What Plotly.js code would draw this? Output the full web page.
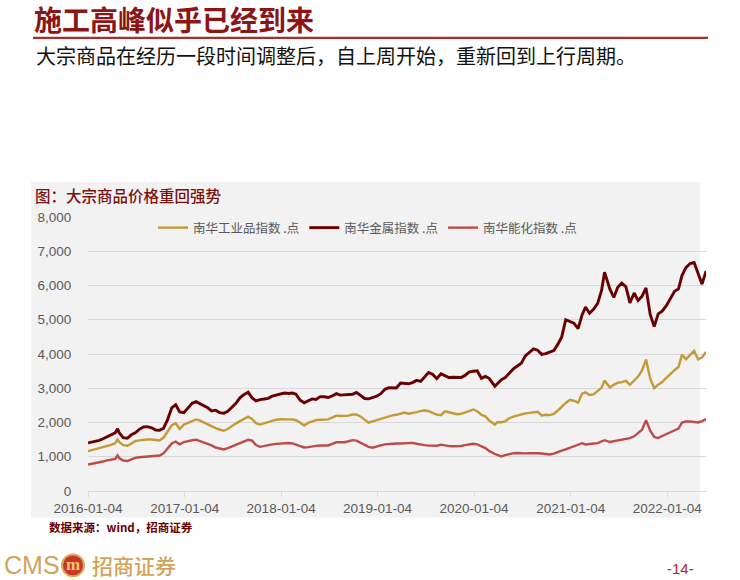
<!DOCTYPE html>
<html><head><meta charset="utf-8">
<script src="https://cdn.plot.ly/plotly-3.0.1.min.js"></script>
<style>html,body{margin:0;padding:0;background:#fff;}#chart{width:740px;height:580px;}</style>
</head><body><div id="chart"></div>
<script>
const dates = [
"2016-01-04","2016-01-16","2016-02-01","2016-02-16","2016-03-01","2016-03-16","2016-04-01","2016-04-16","2016-04-25","2016-05-01","2016-05-16","2016-06-01","2016-06-16","2016-07-01","2016-07-16","2016-08-01","2016-08-16","2016-09-01","2016-09-16","2016-10-01","2016-10-16","2016-11-01","2016-11-16","2016-12-01","2016-12-16",
"2017-01-01","2017-01-16","2017-02-01","2017-02-16","2017-03-01","2017-03-16","2017-04-01","2017-04-16","2017-05-01","2017-05-16","2017-06-01","2017-06-16","2017-07-01","2017-07-16","2017-08-01","2017-08-16","2017-09-01","2017-09-16","2017-10-01","2017-10-16","2017-11-01","2017-11-16","2017-12-01","2017-12-16",
"2018-01-01","2018-01-16","2018-02-01","2018-02-16","2018-03-01","2018-03-16","2018-04-01","2018-04-16","2018-05-01","2018-05-16","2018-06-01","2018-06-16","2018-07-01","2018-07-16","2018-08-01","2018-08-16","2018-09-01","2018-09-16","2018-10-01","2018-10-16","2018-11-01","2018-11-16","2018-12-01","2018-12-16",
"2019-01-01","2019-01-16","2019-02-01","2019-02-16","2019-03-01","2019-03-16","2019-04-01","2019-04-16","2019-05-01","2019-05-16","2019-06-01","2019-06-16","2019-07-01","2019-07-16","2019-08-01","2019-08-16","2019-09-01","2019-09-16","2019-10-01","2019-10-16","2019-11-01","2019-11-16","2019-12-01","2019-12-16",
"2020-01-01","2020-01-16","2020-02-01","2020-02-16","2020-03-01","2020-03-16","2020-03-23","2020-04-01","2020-04-16","2020-05-01","2020-05-16","2020-06-01","2020-06-16","2020-07-01","2020-07-16","2020-08-01","2020-08-16","2020-09-01","2020-09-16","2020-10-01","2020-10-16","2020-11-01","2020-11-16","2020-12-01","2020-12-16",
"2021-01-01","2021-01-16","2021-02-01","2021-02-16","2021-03-01","2021-03-16","2021-04-01","2021-04-16","2021-05-01","2021-05-12","2021-06-01","2021-06-16","2021-07-01","2021-07-16","2021-08-01","2021-08-16","2021-09-01","2021-09-16","2021-10-01","2021-10-16","2021-11-01","2021-11-16","2021-12-01","2021-12-16",
"2022-01-01","2022-01-16","2022-02-01","2022-02-16","2022-03-01","2022-03-16","2022-04-01","2022-04-16","2022-05-01","2022-05-16","2022-05-31"
];
const industrialIdx = [
1162,1185,1213,1250,1290,1320,1347,1400,1503,1430,1340,1320,1390,1456,1478,1496,1503,1503,1500,1476,1560,1740,1920,1975,1810,
1940,1995,2037,2090,2060,2000,1947,1890,1837,1796,1757,1810,1897,1968,2040,2115,2170,2105,1980,1940,1980,2018,2052,2082,
2096,2102,2092,2086,2066,2000,1912,1989,2036,2070,2082,2086,2090,2145,2200,2190,2187,2199,2233,2236,2171,2094,1993,2031,
2071,2114,2160,2186,2208,2225,2266,2290,2258,2270,2302,2330,2357,2335,2288,2230,2213,2329,2300,2271,2241,2255,2287,2330,
2380,2330,2220,2180,2060,1975,1940,2010,2009,2035,2125,2170,2210,2245,2268,2280,2305,2310,2208,2226,2215,2250,2350,2475,2570,
2665,2635,2580,2840,2880,2805,2820,2910,3020,3224,3020,3100,3160,3177,3217,3100,3212,3340,3520,3837,3280,3000,3105,3180,
3300,3420,3530,3620,3980,3850,3975,4090,3840,3900,4060
];
const metalIdx = [
1405,1420,1450,1480,1525,1590,1640,1700,1814,1700,1560,1540,1640,1700,1800,1870,1880,1845,1780,1770,1835,2100,2430,2520,2310,
2290,2420,2560,2610,2555,2500,2430,2340,2360,2290,2270,2330,2430,2550,2720,2815,2883,2718,2630,2670,2685,2705,2770,2805,
2835,2860,2845,2860,2825,2660,2575,2640,2689,2672,2755,2750,2730,2775,2842,2800,2810,2830,2823,2880,2790,2700,2690,2735,
2770,2840,2970,3015,3020,3010,3150,3150,3130,3165,3230,3200,3330,3460,3400,3280,3420,3370,3315,3320,3320,3315,3375,3470,
3496,3510,3290,3345,3290,3150,3059,3130,3245,3310,3430,3570,3650,3728,3945,4065,4150,4110,3990,4010,4051,4100,4280,4500,5000,
4940,4900,4740,5140,5370,5190,5310,5480,5860,6385,5900,5650,5950,6074,5960,5490,5782,5560,5690,5928,5150,4800,5170,5250,
5410,5610,5830,5900,6290,6520,6640,6670,6360,6040,6420
];
const energyIdx = [
773,790,810,828,860,893,918,940,1036,960,890,875,925,968,984,997,1006,1017,1026,1035,1100,1250,1390,1445,1365,
1430,1465,1483,1500,1467,1420,1380,1330,1270,1235,1215,1255,1302,1350,1405,1450,1495,1470,1340,1290,1320,1343,1360,1377,
1390,1400,1401,1390,1360,1323,1270,1280,1310,1318,1327,1327,1330,1376,1423,1425,1425,1452,1485,1470,1405,1340,1290,1265,
1289,1330,1362,1375,1386,1386,1386,1386,1392,1405,1380,1354,1340,1326,1314,1322,1352,1330,1310,1308,1308,1315,1338,1361,
1378,1360,1313,1252,1170,1098,1080,1055,1010,1050,1080,1104,1110,1098,1098,1107,1114,1104,1094,1080,1066,1090,1125,1178,1218,
1265,1310,1370,1395,1360,1365,1388,1398,1450,1483,1430,1454,1474,1488,1518,1541,1596,1680,1790,2067,1760,1580,1545,1605,
1665,1720,1785,1825,2000,2030,2030,2010,2000,2040,2100
];
const seriesNames = ["南华工业品指数 .点","南华金属指数 .点","南华能化指数 .点"];
const seriesColors = ["#C49A34","#6A0000","#BE4B48"];
const tickDates = ["2016-01-04","2017-01-04","2018-01-04","2019-01-04","2020-01-04","2021-01-04","2022-01-04"];
const tickLabels = ["2016-01-04","2017-01-04","2018-01-04","2019-01-04","2020-01-04","2021-01-04","2022-01-04"];
const yTicks = [0,1000,2000,3000,4000,5000,6000,7000,8000];

const titleText = "施工高峰似乎已经到来";
const subText = "大宗商品在经历一段时间调整后，自上周开始，重新回到上行周期。";
const figText = "图：大宗商品价格重回强势";
const srcText = "数据来源：wind，招商证券";

const L = 88, R = 706, T = 217, B = 491.5;
function px(x){ return (x - L) / (R - L); }
function py(y){ return (B - y) / (B - T); }

const values = [industrialIdx, metalIdx, energyIdx];
const widths = [2.4, 2.9, 2.4];
const traces = values.map((v, i) => ({
  type: "scatter", mode: "lines", x: dates, y: v, name: seriesNames[i],
  line: {color: seriesColors[i], width: widths[i]}, hoverinfo: "skip"
}));

const CJK = "'Noto Sans CJK SC', sans-serif";
const layout = {
  width: 740, height: 580,
  margin: {l: L, r: 740 - R, t: T, b: 580 - B, pad: 0},
  paper_bgcolor: "#ffffff", plot_bgcolor: "rgba(0,0,0,0)",
  showlegend: true,
  legend: {orientation: "h", x: px(153), y: py(213), xanchor: "left", yanchor: "top",
    bgcolor: "rgba(0,0,0,0)", font: {family: CJK, size: 12.5, color: "#595959"}, itemwidth: 30},
  xaxis: {type: "date", range: ["2016-01-04", "2022-05-31"], tickmode: "array",
    tickvals: tickDates, ticktext: tickLabels, showgrid: false, zeroline: false,
    showline: true, linecolor: "#d9d9d9", linewidth: 1, ticks: "outside", ticklen: 5,
    tickcolor: "#d9d9d9", tickfont: {family: "'Liberation Sans', Arial, sans-serif", size: 13.5, color: "#595959"}},
  yaxis: {range: [0, 8000], tickmode: "array", tickvals: yTicks, tickformat: ",d",
    showgrid: true, gridcolor: "#d9d9d9", gridwidth: 1, zeroline: false, showline: false,
    ticks: "outside", ticklen: 13, tickcolor: "rgba(0,0,0,0)",
    tickfont: {family: "'Liberation Sans', Arial, sans-serif", size: 13.5, color: "#595959"}},
  shapes: [
    {type: "rect", xref: "paper", yref: "paper", x0: px(31), x1: px(700), y0: py(518), y1: py(182),
      fillcolor: "#f2f2f2", line: {width: 0}, layer: "below"},
    {type: "line", xref: "paper", yref: "paper", x0: px(33), x1: px(708), y0: py(37.5), y1: py(37.5),
      line: {color: "#A8302C", width: 2.2}},
    {type: "circle", xref: "paper", yref: "paper", x0: px(62), x1: px(84), y0: py(577), y1: py(555),
      fillcolor: "#C8372B", line: {color: "#D9A95B", width: 2}}
  ],
  annotations: [
    {text: titleText, xref: "paper", yref: "paper", x: px(32), y: py(19), xanchor: "left", yanchor: "middle",
      showarrow: false, font: {family: CJK, size: 28, color: "#8C1515", weight: 700}},
    {text: subText, xref: "paper", yref: "paper", x: px(34), y: py(55), xanchor: "left", yanchor: "middle",
      showarrow: false, font: {family: CJK, size: 20, color: "#111111"}},
    {text: figText, xref: "paper", yref: "paper", x: px(33), y: py(195), xanchor: "left", yanchor: "middle",
      showarrow: false, font: {family: CJK, size: 15.5, color: "#7A1212", weight: 500}},
    {text: srcText, xref: "paper", yref: "paper", x: px(47), y: py(528), xanchor: "left", yanchor: "middle",
      showarrow: false, font: {family: CJK, size: 11.5, color: "#6A0000", weight: 700}},
    {text: "CMS", xref: "paper", yref: "paper", x: px(2), y: py(566), xanchor: "left", yanchor: "middle",
      showarrow: false, font: {family: "'Liberation Sans Narrow', 'Liberation Sans', sans-serif", size: 25, color: "#D4A35A"}},
    {text: "m", xref: "paper", yref: "paper", x: px(73), y: py(565), xanchor: "center", yanchor: "middle",
      showarrow: false, font: {family: "'Liberation Serif', serif", size: 17, color: "#F2C46A", weight: 700}},
    {text: "招商证券", xref: "paper", yref: "paper", x: px(90), y: py(566), xanchor: "left", yanchor: "middle",
      showarrow: false, font: {family: CJK, size: 21, color: "#D4A35A", weight: 500}},
    {text: "-14-", xref: "paper", yref: "paper", x: px(696), y: py(569), xanchor: "right", yanchor: "middle",
      showarrow: false, font: {family: "'Liberation Sans Narrow', 'Liberation Sans', sans-serif", size: 15, color: "#C0241C"}}
  ]
};
Plotly.newPlot("chart", traces, layout, {displayModeBar: false, staticPlot: true});
</script>
</body></html>
